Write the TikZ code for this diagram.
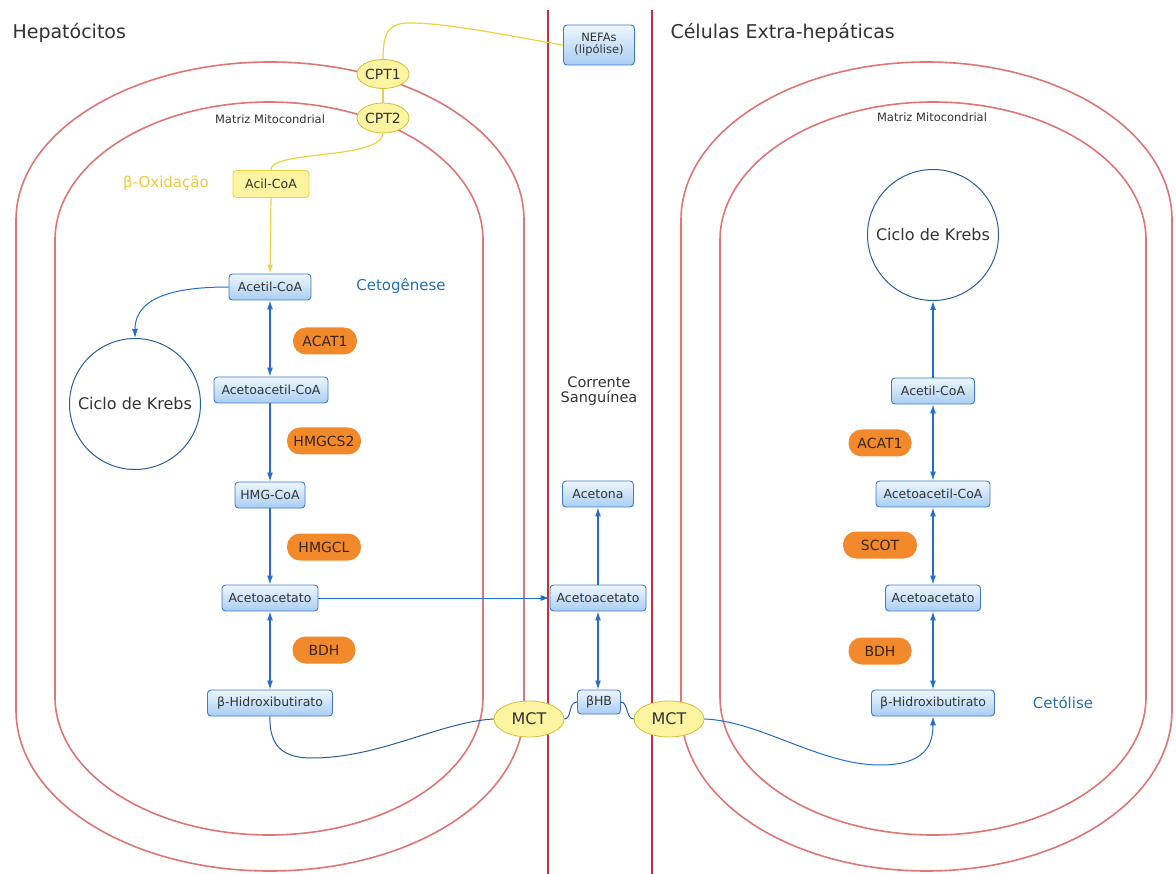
\documentclass[tikz,border=0pt]{standalone}
\usepackage{fontspec}
\setmainfont{DejaVu Sans}
\usetikzlibrary{arrows.meta,shapes.geometric}
\definecolor{membr}{HTML}{E07575}
\definecolor{vline}{HTML}{C3323C}
\definecolor{boxtop}{HTML}{EEF6FE}
\definecolor{boxbot}{HTML}{A8CEF3}
\definecolor{boxline}{HTML}{3C7BC8}
\definecolor{arrowblue}{HTML}{1F6FCF}
\definecolor{curveblue}{HTML}{2A5E9C}
\definecolor{pillc}{HTML}{F28A2B}
\definecolor{pilltext}{HTML}{3A2618}
\definecolor{ylwline}{HTML}{EDD240}
\definecolor{ylwfill}{HTML}{FCF4A0}
\definecolor{ylwtext}{HTML}{EEC93A}
\definecolor{titleblue}{HTML}{2470B0}
\definecolor{txt}{HTML}{333333}
\tikzset{
  membrane/.style={draw=membr, line width=1.6pt},
  divider/.style={draw=vline, line width=1.2pt},
  mol/.style={draw=boxline, line width=0.9pt, rounded corners=3.5pt, top color=boxtop, bottom color=boxbot, text=txt, font=\fontsize{12.5}{14}\selectfont, minimum height=26pt, inner xsep=3pt, inner ysep=2pt},
  acil/.style={draw=ylwline, line width=0.9pt, rounded corners=3.5pt, fill=ylwfill, text=txt, font=\fontsize{12.5}{14}\selectfont, minimum height=27pt, minimum width=76pt},
  enz/.style={fill=pillc, rounded corners=13pt, minimum height=27pt, text=pilltext, font=\fontsize{14}{16}\selectfont},
  trans/.style={ellipse, draw=ylwline!90!black, fill=ylwfill, line width=0.8pt, text=txt, inner sep=0pt},
  krebs/.style={circle, draw=curveblue, line width=1pt, minimum size=131pt, text=txt, font=\fontsize{16}{18}\selectfont},
  flow/.style={draw=arrowblue, line width=1.2pt},
  tip/.style={-{Latex[length=9pt,width=6pt]}},
  biflow/.style={{Latex[length=9pt,width=6pt]}-{Latex[length=9pt,width=6pt]}},
  curve/.style={draw=curveblue, line width=1pt},
  ylw/.style={draw=ylwline, line width=1.2pt},
  title/.style={text=txt, font=\fontsize{19}{22}\selectfont, anchor=west},
  section/.style={text=titleblue, font=\fontsize{15}{17}\selectfont},
  matrix/.style={text=txt, font=\fontsize{11.5}{13}\selectfont}
}
\begin{document}
\begin{tikzpicture}[x=1pt,y=-1pt]
\useasboundingbox (0,0) rectangle (1176,874);
\fill[white] (0,0) rectangle (1176,874);

% membranes (hepatocyte)
\path[membrane] (16,220) -- (16,710) .. controls (16,800) and (129.7,871) .. (270,871) .. controls (410.3,871) and (524,800) .. (524,710) -- (524,220) .. controls (524,132.7) and (410.3,62) .. (270,62) .. controls (129.7,62) and (16,132.7) .. (16,220) -- cycle;
\path[membrane] (55,240) -- (55,697) .. controls (55,773.2) and (150.8,835) .. (269,835) .. controls (387.2,835) and (483,773.2) .. (483,697) -- (483,240) .. controls (483,163.8) and (387.2,102) .. (269,102) .. controls (150.8,102) and (55,163.8) .. (55,240) -- cycle;
% membranes (extra-hepatic cell)
\path[membrane] (681,220) -- (681,710) .. controls (681,800) and (790.9,871) .. (926.5,871) .. controls (1062.1,871) and (1172,800) .. (1172,710) -- (1172,220) .. controls (1172,132.7) and (1062.1,62) .. (926.5,62) .. controls (790.9,62) and (681,132.7) .. (681,220) -- cycle;
\path[membrane] (720,240) -- (720,697) .. controls (720,773.2) and (815.4,835) .. (933,835) .. controls (1050.6,835) and (1146,773.2) .. (1146,697) -- (1146,240) .. controls (1146,163.8) and (1050.6,102) .. (933,102) .. controls (815.4,102) and (720,163.8) .. (720,240) -- cycle;

% blood stream borders
\path[divider] (548,10) -- (548,874);
\path[divider] (652,10) -- (652,874);

% titles and labels
\node[title] (hep) at (9,33) {Hepatócitos};
\node[title] (extra) at (667,33) {Células Extra-hepáticas};
\node[matrix] (matL) at (270,119) {Matriz Mitocondrial};
\node[matrix] (matR) at (932,117) {Matriz Mitocondrial};
\node[text=ylwtext, font=\fontsize{15}{17}\selectfont] (boxi) at (166,183) {β-Oxidação};
\node[section] (ceto) at (401,286) {Cetogênese};
\node[section] (cetol) at (1063,703) {Cetólise};
\node[text=txt, font=\fontsize{14.5}{14.5}\selectfont, align=center] (blood) at (599,391) {Corrente\\Sanguínea};

% left (liver)
\node[trans, minimum width=52pt, minimum height=29pt, font=\fontsize{14}{16}\selectfont] (cpt1) at (383,74) {CPT1};
\node[trans, minimum width=52pt, minimum height=30pt, font=\fontsize{14}{16}\selectfont] (cpt2) at (383,118) {CPT2};
\node[acil] (acil) at (271,184) {Acil-CoA};
\node[mol, minimum width=82pt] (acetilL) at (270,287) {Acetil-CoA};
\node[krebs] (krebsL) at (135,404) {Ciclo de Krebs};
\node[enz, minimum width=64pt] (acat1L) at (325,341) {ACAT1};
\node[mol, minimum width=114pt] (acacoaL) at (271,390) {Acetoacetil-CoA};
\node[enz, minimum width=74pt] (hmgcs) at (324,441) {HMGCS2};
\node[mol, minimum width=70pt] (hmg) at (270,495) {HMG-CoA};
\node[enz, minimum width=74pt] (hmgcl) at (324,547) {HMGCL};
\node[mol, minimum width=96pt] (acacL) at (270,598) {Acetoacetato};
\node[enz, minimum width=63pt] (bdhL) at (324,650) {BDH};
\node[mol, minimum width=125pt] (bhbL) at (270,703) {β-Hidroxibutirato};

% blood stream
\node[mol, minimum width=71pt, minimum height=40pt, align=center, font=\fontsize{11.5}{12}\selectfont] (nefa) at (599,45) {NEFAs\\(lipólise)};
\node[mol, minimum width=71pt] (acetona) at (598,494) {Acetona};
\node[mol, minimum width=96pt] (acacB) at (598,598) {Acetoacetato};
\node[mol, minimum width=43pt, minimum height=24pt] (bhbB) at (599,702) {βHB};
\node[trans, minimum width=70pt, minimum height=36pt, font=\fontsize{16}{18}\selectfont] (mctL) at (529,719) {MCT};
\node[trans, minimum width=70pt, minimum height=36pt, font=\fontsize{16}{18}\selectfont] (mctR) at (669,719) {MCT};

% right (extra-hepatic)
\node[krebs] (krebsR) at (933,235) {Ciclo de Krebs};
\node[mol, minimum width=83pt] (acetilR) at (933,391) {Acetil-CoA};
\node[enz, minimum width=63pt] (acat1R) at (880,443) {ACAT1};
\node[mol, minimum width=114pt] (acacoaR) at (933,494) {Acetoacetil-CoA};
\node[enz, minimum width=74pt] (scot) at (880,545) {SCOT};
\node[mol, minimum width=95pt] (acacR) at (933,598) {Acetoacetato};
\node[enz, minimum width=63pt] (bdhR) at (880,651) {BDH};
\node[mol, minimum width=123pt] (bhbR) at (933,703) {β-Hidroxibutirato};

% yellow pathway
\path[ylw] (cpt1.north) .. controls (383,30) and (390,23) .. (410,23) .. controls (450,23) and (520,38) .. (nefa.west);
\path[ylw] (cpt1.south) -- (cpt2.north);
\path[ylw] (cpt2.south) .. controls (381,160) and (270,150) .. (acil.north);
\path[ylw, -{Latex[length=9pt,width=6pt,fill=ylwline]}] (acil.south) -- (acetilL.north);

% ketogenesis
\path[curve, tip, draw=arrowblue] (acetilL.west) .. controls (180,287) and (135,295) .. (krebsL.north);
\path[flow, biflow] (acetilL.south) -- (acacoaL.north -| acetilL.south);
\path[flow, tip] (acacoaL.south -| hmg.north) -- (hmg.north);
\path[flow, tip] (hmg.south) -- (acacL.north -| hmg.south);
\path[flow, biflow] (acacL.south) -- (bhbL.north);
\path[flow, tip, line width=1pt] (acacL.east) -- (acacB.west);

% blood
\path[flow, tip] (acacB.north) -- (acetona.south);
\path[flow, biflow] (acacB.south) -- (bhbB.north -| acacB.south);
\path[curve] (bhbB.west) .. controls (568,702) and (572,719) .. (mctL.east);
\path[curve] (bhbB.east) .. controls (628,702) and (626,719) .. (mctR.west);
\path[curve] (bhbL.south) .. controls (269,748) and (285,758) .. (312,758) .. controls (380,758) and (440,722) .. (mctL.west);
\path[curve, tip, draw=arrowblue] (mctR.east) .. controls (760,721) and (820,765) .. (880,765) .. controls (925,765) and (933,745) .. (bhbR.south);

% ketolysis
\path[flow, tip] (acetilR.north) -- (krebsR.south);
\path[flow, biflow] (acetilR.south) -- (acacoaR.north -| acetilR.south);
\path[flow, biflow] (acacoaR.south) -- (acacR.north -| acacoaR.south);
\path[flow, biflow] (acacR.south) -- (bhbR.north -| acacR.south);
\end{tikzpicture}
\end{document}
